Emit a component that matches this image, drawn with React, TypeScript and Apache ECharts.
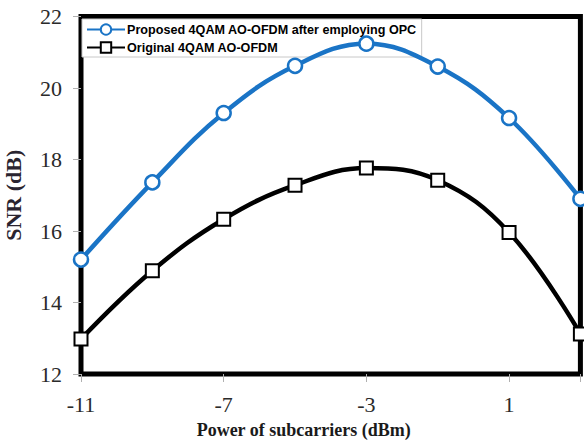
import React, { useEffect, useRef } from "react";
import * as echarts from "echarts";

const xValues = [-11, -9, -7, -5, -3, -1, 1, 3];
const proposedSNR = [15.2, 17.36, 19.3, 20.62, 21.24, 20.6, 19.16, 16.9];
const originalSNR = [12.98, 14.89, 16.33, 17.28, 17.76, 17.42, 15.96, 13.12];
const xTicks = [-11, -7, -3, 1];
const seriesNames = [
  "Proposed 4QAM AO-OFDM after employing OPC",
  "Original 4QAM AO-OFDM",
];
const xTitle = "Power of subcarriers (dBm)";
const yTitle = "SNR (dB)";

const BLUE = "#1a74c6";

export default function App() {
  const ref = useRef<HTMLDivElement>(null);
  useEffect(() => {
    if (!ref.current) return;
    const chart = echarts.init(ref.current, null, { renderer: "svg" });
    const pair = (ys: number[]) => xValues.map((x, i) => [x, ys[i]]);
    chart.setOption({
      animation: false,
      backgroundColor: "#fff",
      grid: {
        left: 81,
        right: 3.6,
        top: 16.5,
        bottom: 67,
        show: true,
        borderColor: "#000",
        borderWidth: 5,
        backgroundColor: "transparent",
        containLabel: false,
        outerBoundsMode: "none",
      },
      legend: {
        orient: "vertical",
        left: 82,
        top: 19,
        z: 1,
        padding: [4, 5, 3, 4],
        itemGap: 5,
        itemWidth: 38,
        itemHeight: 13,
        backgroundColor: "#fff",
        borderColor: "#c8c8c8",
        borderWidth: 1,
        borderRadius: 0,
        textStyle: {
          fontFamily: "Liberation Sans, Arial, sans-serif",
          fontWeight: "bold",
          fontSize: 12.6,
          color: "#000",
          padding: [0, 0, 0, -3],
        },
        data: seriesNames,
      },
      xAxis: {
        type: "value",
        min: -11,
        max: 3,
        interval: 4,
        splitLine: { show: false },
        axisLine: { show: false, onZero: false },
        axisTick: {
          show: true,
          length: 8,
          lineStyle: { color: "#b0b0b0", width: 1 },
        },
        axisLabel: {
          customValues: xTicks,
          margin: 19,
          fontFamily: "Liberation Serif, Times New Roman, serif",
          fontSize: 22,
          color: "#2a2a2a",
        },
        name: xTitle,
        nameLocation: "middle",
        nameGap: 47,
        nameTextStyle: {
          fontFamily: "Liberation Serif, Times New Roman, serif",
          fontWeight: "bold",
          fontSize: 18,
          color: "#1a1a1a",
          padding: [0, 54, 0, 0],
        },
      },
      yAxis: {
        type: "value",
        min: 12,
        max: 22,
        interval: 2,
        splitLine: { show: false },
        axisLine: { show: false, onZero: false },
        axisTick: {
          show: true,
          length: 8,
          lineStyle: { color: "#b0b0b0", width: 1 },
        },
        axisLabel: {
          margin: 19,
          fontFamily: "Liberation Serif, Times New Roman, serif",
          fontSize: 22,
          color: "#2a2a2a",
        },
        name: yTitle,
        nameLocation: "middle",
        nameGap: 57,
        nameRotate: 90,
        nameTextStyle: {
          fontFamily: "Liberation Serif, Times New Roman, serif",
          fontWeight: "bold",
          fontSize: 22,
          color: "#2a2430",
        },
      },
      series: [
        {
          name: seriesNames[0],
          type: "line",
          data: pair(proposedSNR),
          smooth: 0.4,
          z: 3,
          symbol: "circle",
          symbolSize: 14,
          lineStyle: { color: BLUE, width: 4.5 },
          itemStyle: { color: "#fff", borderColor: BLUE, borderWidth: 2.5 },
        },
        {
          name: seriesNames[1],
          type: "line",
          data: pair(originalSNR),
          smooth: 0.4,
          z: 3,
          symbol: "rect",
          symbolSize: 13,
          lineStyle: { color: "#000", width: 4.5 },
          itemStyle: { color: "#fff", borderColor: "#000", borderWidth: 2 },
        },
      ],
    });
    return () => chart.dispose();
  }, []);
  return (
    <div
      ref={ref}
      style={{ position: "fixed", left: 0, top: 0, width: 584, height: 441 }}
    />
  );
}
